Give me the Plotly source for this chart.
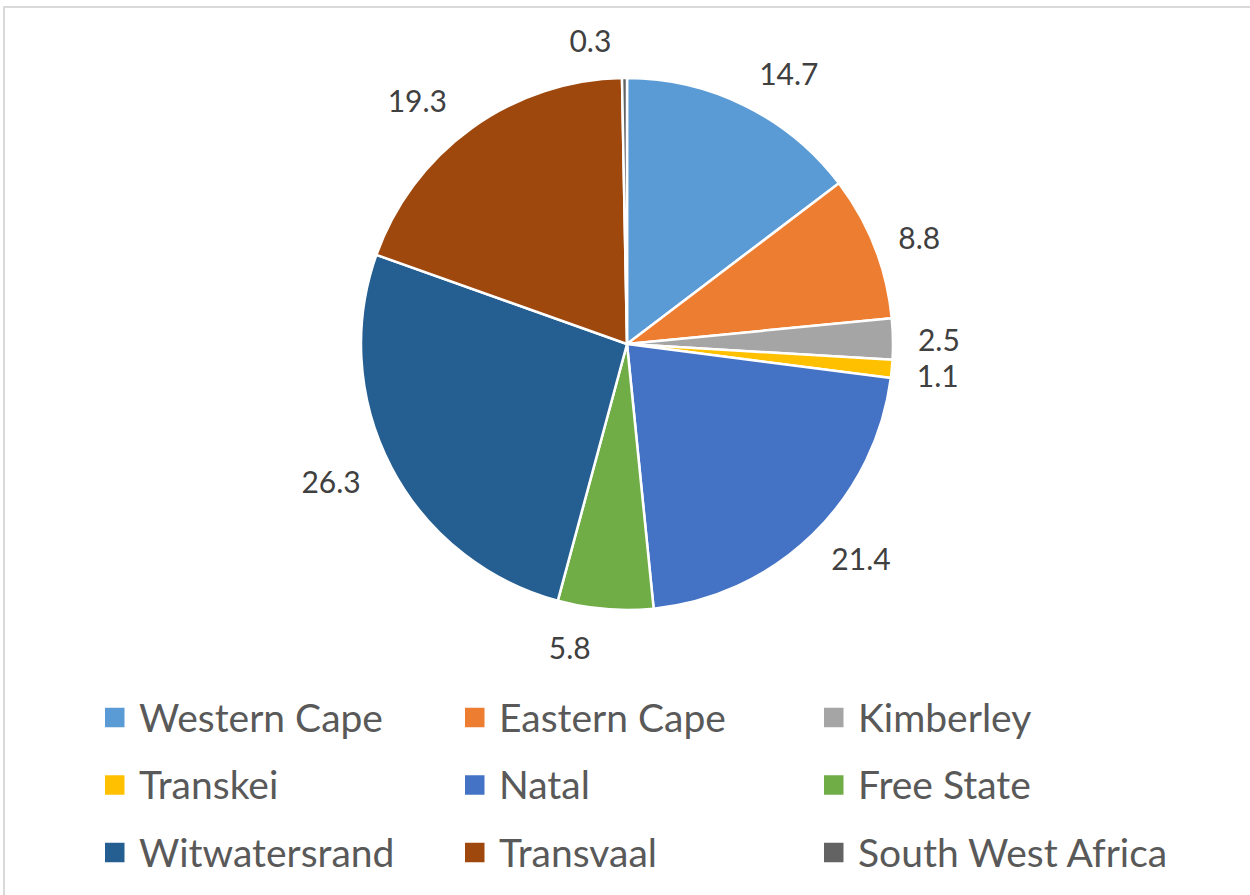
import plotly.graph_objects as go

labels = ["Western Cape", "Eastern Cape", "Kimberley", "Transkei", "Natal",
          "Free State", "Witwatersrand", "Transvaal", "South West Africa"]
values = [14.7, 8.8, 2.5, 1.1, 21.4, 5.8, 26.3, 19.3, 0.3]
colors = ["#5B9BD5", "#ED7D31", "#A5A5A5", "#FFC000", "#4472C4",
          "#70AD47", "#255E91", "#9E480E", "#636363"]

W, H = 1250, 895
FONT = "Lato"
CX, CY, R = 627, 344, 266      # pie centre / radius in pixels
R_LABEL = 286                  # radius used for placing the outside value labels


def domain(r, cx=CX, cy=CY):
    return dict(x=[(cx - r) / W, (cx + r) / W],
                y=[(H - cy - r) / H, (H - cy + r) / H])


fig = go.Figure()
# transparent, slightly larger pie that only carries the outside value labels
fig.add_trace(go.Pie(
    labels=labels, values=values, sort=False, direction="clockwise", rotation=0,
    marker=dict(colors=["rgba(0,0,0,0)"] * len(values), line=dict(width=0)),
    textinfo="value", textposition="outside",
    outsidetextfont=dict(family=FONT, size=30, color="#404040"),
    domain=domain(R_LABEL, CX - 4), showlegend=False, hoverinfo="skip",
))
# the visible pie
fig.add_trace(go.Pie(
    labels=labels, values=values, sort=False, direction="clockwise", rotation=0,
    marker=dict(colors=colors, line=dict(color="white", width=2.5)),
    textinfo="none",
    domain=domain(R), showlegend=False, hoverinfo="label+value",
))

# chart-area border
shapes = [dict(type="rect", xref="paper", yref="paper",
               x0=4 / W, x1=1.02, y0=-0.02, y1=1 - 7 / H,
               line=dict(color="#D9D9D9", width=2), fillcolor="rgba(0,0,0,0)")]
annotations = []
# legend laid out as a 3-column grid (as in the reference)
col_x = [105, 465, 824]
row_y = [717.5, 785, 852.5]
sq = 19.5
for i, (lab, col) in enumerate(zip(labels, colors)):
    cx = col_x[i % 3]
    cy = row_y[i // 3]
    shapes.append(dict(type="rect", xref="paper", yref="paper",
                       x0=cx / W, x1=(cx + sq) / W,
                       y0=1 - (cy + sq / 2) / H, y1=1 - (cy - sq / 2) / H,
                       fillcolor=col, line=dict(width=0)))
    annotations.append(dict(xref="paper", yref="paper", x=(cx + 32) / W, y=1 - (cy - 1) / H,
                            text=lab, showarrow=False, xanchor="left", yanchor="middle",
                            font=dict(family=FONT, size=39, color="#595959")))

fig.update_layout(
    width=W, height=H, margin=dict(l=0, r=0, t=0, b=0),
    paper_bgcolor="white", plot_bgcolor="white",
    shapes=shapes, annotations=annotations,
    font=dict(family=FONT),
)

post = """
document.body.style.margin = '0';
var st = document.createElement('style');
st.textContent = 'path.textline { stroke-opacity: 0 !important; }';
document.head.appendChild(st);
"""
fig.write_html("out.html", config={"displayModeBar": False}, post_script=post)
